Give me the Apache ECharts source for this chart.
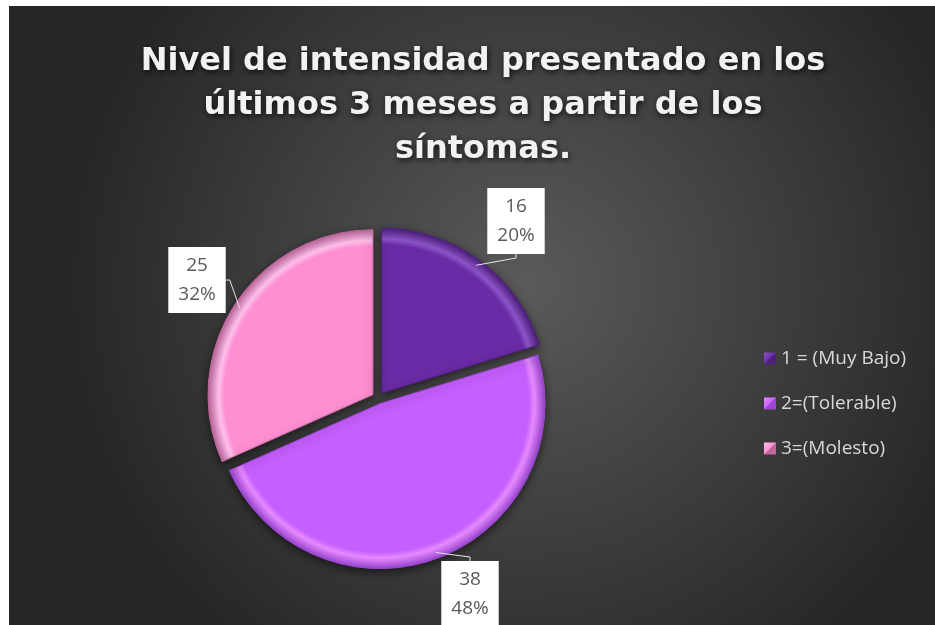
<!DOCTYPE html>
<html>
<head>
<meta charset="utf-8">
<script src="https://cdn.jsdelivr.net/npm/echarts@6/dist/echarts.min.js"></script>
<style>
  html, body { margin: 0; padding: 0; background: #fff; }
  #chart { position: absolute; left: 9px; top: 6px; width: 926px; height: 619px; }
</style>
</head>
<body>
<div id="chart"></div>
<script>
const titleText = 'Nivel de intensidad presentado en los\núltimos 3 meses a partir de los\nsíntomas.'
const categories = ['1 = (Muy Bajo)', '2=(Tolerable)', '3=(Molesto)']
const values = [16, 38, 25]
const faceColors = ['#6a2ba6', '#c65fff', '#ff8fd3']
const rimLight = ['#8c55c8', '#e68aff', '#ffc0ea']
const rimDark = ['#4f1f80', '#9c46d4', '#c0689e']
// callout box centres, chart coords
const labelPos = [[507, 215], [461, 588], [188, 274]]

const center = [369, 392]
const radius = 165

const chart = echarts.init(document.getElementById('chart'))

function rim(i) {
  return {
    type: 'radial', x: center[0], y: center[1], r: radius, global: true,
    colorStops: [
      { offset: 0, color: faceColors[i] },
      { offset: 0.9, color: faceColors[i] },
      { offset: 0.935, color: rimLight[i] },
      { offset: 1, color: rimDark[i] }
    ]
  }
}

function legendIcon(i) {
  return {
    type: 'linear', x: 0, y: 0, x2: 1, y2: 1,
    colorStops: [
      { offset: 0, color: rimLight[i] },
      { offset: 0.5, color: faceColors[i] },
      { offset: 0.5, color: rimDark[i] },
      { offset: 1, color: rimDark[i] }
    ]
  }
}

chart.setOption({
  backgroundColor: {
    type: 'radial', x: 0.56, y: 0.45, r: 0.75,
    colorStops: [
      { offset: 0, color: '#5a5a5a' },
      { offset: 1, color: '#262626' }
    ]
  },
  title: {
    text: titleText,
    left: 469,
    textAlign: 'center',
    top: 29,
    textStyle: {
      fontFamily: 'DejaVu Sans',
      fontWeight: 'bold',
      fontSize: 32,
      lineHeight: 44,
      color: '#f2f2f2',
      textShadowColor: 'rgba(0,0,0,0.8)',
      textShadowBlur: 6,
      textShadowOffsetX: 1,
      textShadowOffsetY: 2
    }
  },
  legend: {
    orient: 'vertical',
    left: 750,
    top: 338,
    itemWidth: 12,
    itemHeight: 12,
    itemGap: 26,
    icon: 'rect',
    itemStyle: { borderWidth: 0, shadowBlur: 0 },
    textStyle: { color: '#d9d9d9', fontSize: 19, fontFamily: 'Open Sans' },
    data: categories.map((name, i) => ({ name, itemStyle: { color: legendIcon(i) } }))
  },
  series: [{
    // the exploded slices
    type: 'pie',
    center,
    radius,
    startAngle: 90,
    clockwise: true,
    selectedMode: 'multiple',
    selectedOffset: 6,
    animation: false,
    label: { show: false },
    labelLine: { show: false },
    emphasis: { disabled: true },
    data: categories.map((name, i) => ({
      name,
      value: values[i],
      selected: true,
      itemStyle: {
        color: rim(i),
        borderColor: rimDark[i],
        borderWidth: 1,
        shadowColor: 'rgba(0,0,0,0.55)',
        shadowBlur: 8,
        shadowOffsetY: 3
      }
    }))
  }, {
    // same pie, invisible, only carries the callouts
    type: 'pie',
    center,
    radius,
    startAngle: 90,
    clockwise: true,
    selectedMode: false,
    percentPrecision: 0,
    animation: false,
    silent: true,
    z: 3,
    emphasis: { disabled: true },
    itemStyle: { color: 'rgba(0,0,0,0)' },
    data: categories.map((name, i) => ({ name, value: values[i] })),
    label: {
      show: true,
      position: 'outside',
      formatter: '{c}\n{d}%',
      backgroundColor: '#ffffff',
      color: '#595959',
      fontSize: 19,
      fontFamily: 'Open Sans',
      lineHeight: 29,
      padding: [4, 10]
    },
    labelLine: {
      show: true,
      length: 6,
      length2: 4,
      smooth: false,
      lineStyle: { color: '#e6e6e6', width: 1 }
    },
    labelLayout: function (params) {
      const p = labelPos[params.dataIndex]
      return { x: p[0], y: p[1], align: 'center', verticalAlign: 'middle' }
    }
  }]
})
</script>
</body>
</html>
